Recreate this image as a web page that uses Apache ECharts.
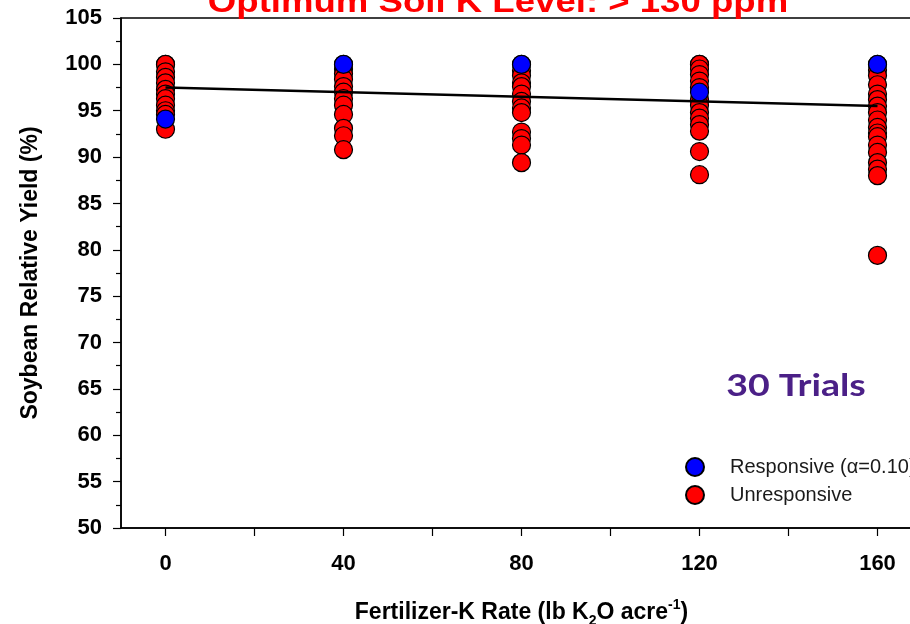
<!DOCTYPE html>
<html>
<head>
<meta charset="utf-8">
<script src="https://cdn.jsdelivr.net/npm/echarts@6/dist/echarts.min.js"></script>
<style>
  html, body { margin: 0; padding: 0; background: #fff; }
  #chart { width: 910px; height: 624px; }
</style>
</head>
<body>
<div id="chart"></div>
<script>
// Fertilizer-K rates (lb K2O/acre)
const rates = [0, 40, 80, 120, 160];

// Relative yield (%) of trials with a significant K response, per rate
const responsiveYield = [
  [94.1],
  [100],
  [100],
  [97.0],
  [100]
];

// Relative yield (%) of trials without a K response, per rate
const unresponsiveYield = [
  [100, 100, 99.2, 98.6, 98.0, 97.3, 96.8, 96.3, 95.6, 95.0, 94.6, 93.0],
  [100, 99.5, 99.0, 98.4, 97.6, 97.0, 96.3, 95.6, 94.6, 93.1, 92.3, 90.8],
  [100, 99.3, 98.8, 98.0, 97.6, 96.8, 96.0, 95.3, 94.8, 92.7, 92.0, 91.3, 89.4],
  [100, 100, 99.5, 98.9, 98.2, 97.5, 96.2, 95.6, 94.8, 94.2, 93.5, 92.8, 90.6, 88.1],
  [100, 99.4, 98.8, 97.8, 96.8, 96.2, 95.5, 94.8, 94.0, 93.2, 92.6, 92.2, 91.3, 90.5, 89.4, 88.7, 88.0, 79.4]
];

// Linear fit end points: [rate, yield]
const fitLine = [[0, 97.5], [160, 95.5]];

const xLabelValues = [0, 40, 80, 120, 160];
const xTickValues = [0, 20, 40, 60, 80, 100, 120, 140, 160];

const seriesNames = ['Responsive (\u03b1=0.10)', 'Unresponsive'];

function toPoints(groups) {
  const pts = [];
  groups.forEach((vals, i) => vals.forEach(v => pts.push([rates[i], v])));
  return pts;
}

const FONT = '"Liberation Sans", Arial, sans-serif';
const chart = echarts.init(document.getElementById('chart'), null, { renderer: 'canvas' });

chart.setOption({
  animation: false,
  backgroundColor: '#ffffff',
  grid: {
    left: 121, top: 18, width: 801, height: 510,
    outerBoundsMode: 'none',
    containLabel: false,
    show: true, borderColor: '#000', borderWidth: 1.5
  },
  legend: {
    orient: 'vertical',
    left: 680, top: 452,
    itemWidth: 18, itemHeight: 18, itemGap: 8,
    icon: 'circle',
    data: seriesNames,
    textStyle: { fontFamily: FONT, fontSize: 20, color: '#1a1a1a', padding: [0, 0, 0, 21] }
  },
  xAxis: {
    type: 'value',
    min: -10, max: 170,
    splitLine: { show: false },
    axisLine: { onZero: false, lineStyle: { color: '#000', width: 1.5 } },
    axisTick: { show: true, length: 8, customValues: xTickValues, lineStyle: { color: '#000', width: 1.2 } },
    axisLabel: {
      customValues: xLabelValues,
      fontFamily: FONT, fontSize: 22, fontWeight: 'bold', color: '#000', margin: 25
    },
    name: '{b|Fertilizer-K Rate (lb K}{sub|2}{b|O acre}{sup|-1}{b|)}',
    nameLocation: 'middle',
    nameGap: 70,
    nameTextStyle: {
      rich: {
        b: { fontFamily: FONT, fontSize: 23, fontWeight: 'bold', color: '#000', lineHeight: 30 },
        sub: { fontFamily: FONT, fontSize: 14, fontWeight: 'bold', color: '#000', verticalAlign: 'bottom', lineHeight: 30, padding: [10, 0, 0, 0] },
        sup: { fontFamily: FONT, fontSize: 14, fontWeight: 'bold', color: '#000', verticalAlign: 'top', lineHeight: 30, padding: [0, 0, 10, 0] }
      }
    }
  },
  yAxis: {
    type: 'value',
    min: 50, max: 105, interval: 5,
    splitLine: { show: false },
    axisLine: { show: true, onZero: false, lineStyle: { color: '#000', width: 1.5 } },
    axisTick: { show: true, length: 8, lineStyle: { color: '#000', width: 1.2 } },
    minorTick: { show: true, splitNumber: 2, length: 5, lineStyle: { color: '#000', width: 1.2 } },
    minorSplitLine: { show: false },
    axisLabel: { fontFamily: FONT, fontSize: 22, fontWeight: 'bold', color: '#000', margin: 19 },
    name: 'Soybean Relative Yield (%)',
    nameLocation: 'middle',
    nameGap: 79,
    nameTextStyle: { fontFamily: FONT, fontSize: 23, fontWeight: 'bold', color: '#000' }
  },
  series: [
    {
      name: seriesNames[1],
      type: 'scatter',
      symbol: 'circle',
      symbolSize: 18,
      itemStyle: { color: '#ff0000', borderColor: '#000', borderWidth: 1.2, opacity: 1 },
      data: toPoints(unresponsiveYield)
    },
    {
      name: seriesNames[0],
      type: 'scatter',
      symbol: 'circle',
      symbolSize: 18,
      itemStyle: { color: '#0000ff', borderColor: '#000', borderWidth: 1.2, opacity: 1 },
      data: toPoints(responsiveYield)
    },
    {
      name: 'fit',
      type: 'line',
      showSymbol: false,
      symbol: 'none',
      lineStyle: { color: '#000', width: 2.5 },
      data: fitLine,
      z: 3
    }
  ],
  graphic: [
    {
      type: 'text',
      x: 498, y: 19,
      scaleX: 1.18,
      style: {
        text: 'Optimum Soil K Level: > 130 ppm',
        font: 'bold 31px "Liberation Sans", Arial, sans-serif',
        fill: '#ff0000',
        align: 'center',
        verticalAlign: 'bottom'
      }
    },
    {
      type: 'text',
      x: 796, y: 386,
      scaleX: 1.25,
      style: {
        text: '30 Trials',
        font: 'bold 30px Lato, "Open Sans", sans-serif',
        fill: '#4b2087',
        align: 'center',
        verticalAlign: 'middle'
      }
    }
  ]
});
</script>
</body>
</html>
